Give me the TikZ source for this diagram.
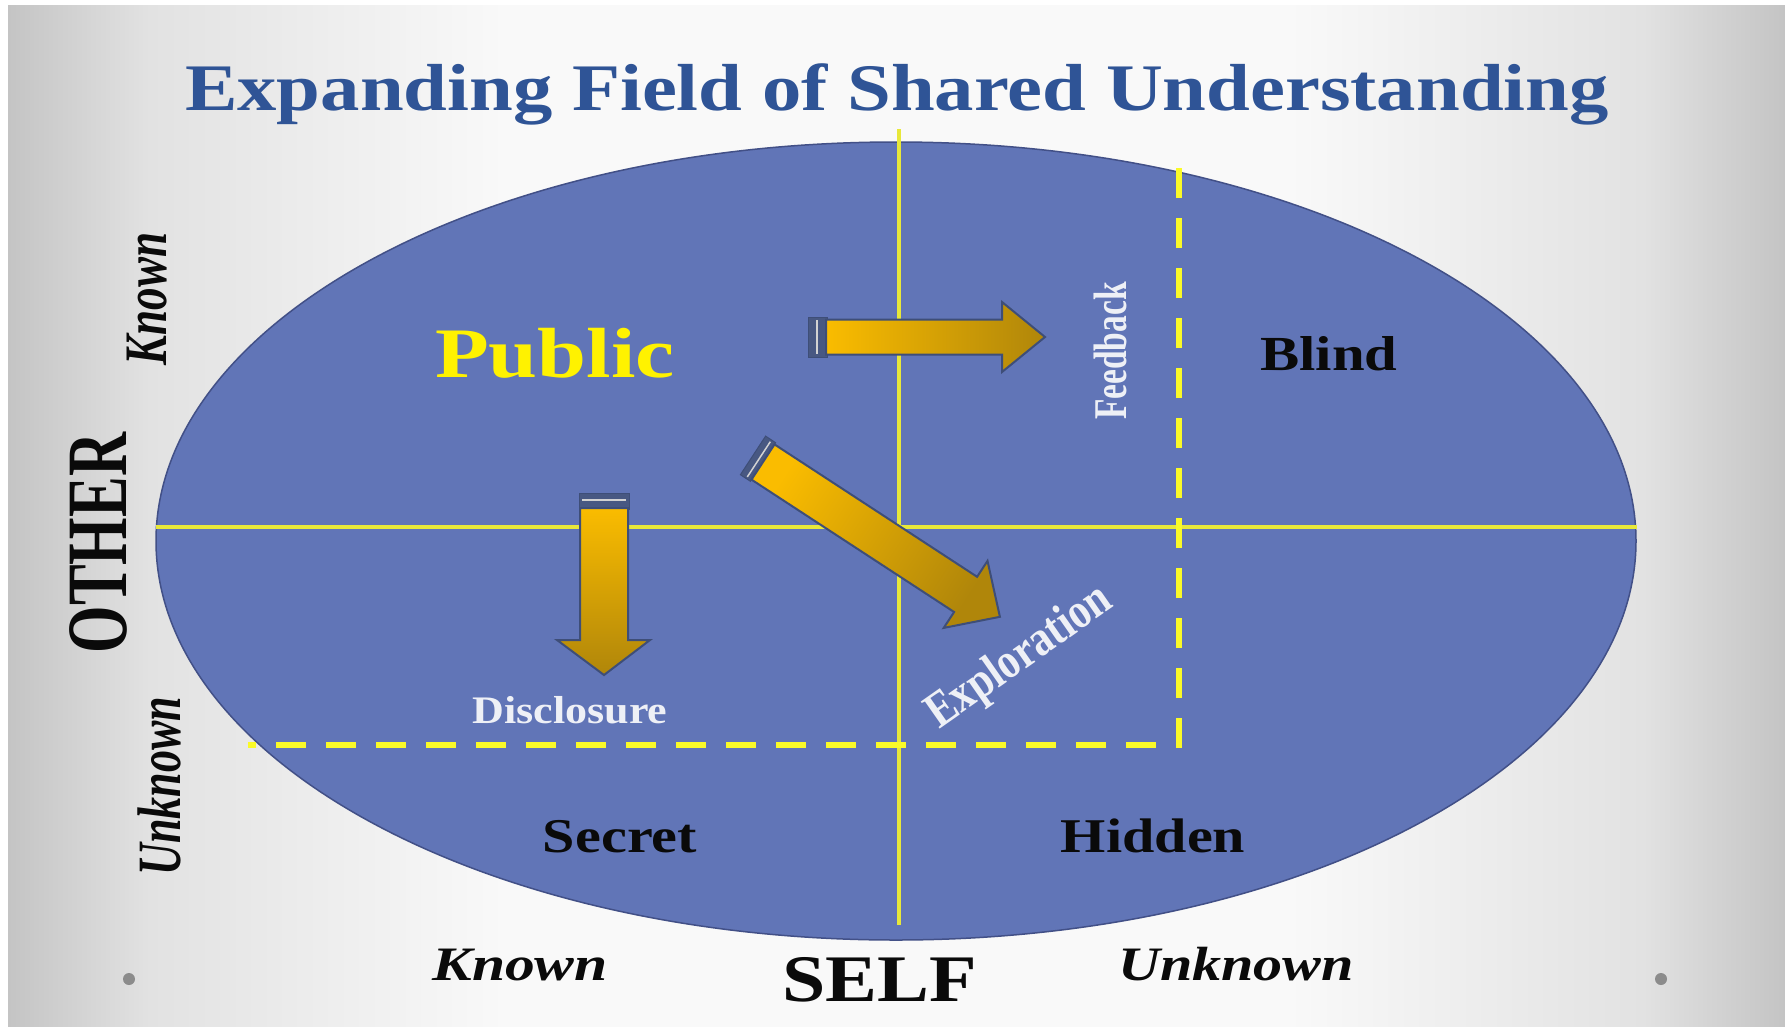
\documentclass[tikz,border=0pt]{standalone}
\usepackage{fontspec}
\setmainfont{Liberation Serif}
\usepackage{graphicx}
\definecolor{bgA}{RGB}{196,196,196}
\definecolor{bgB}{RGB}{226,226,226}
\definecolor{bgC}{RGB}{249,249,249}
\definecolor{ellblue}{RGB}{97,117,183}
\definecolor{elledge}{RGB}{66,80,135}
\definecolor{lineyellow}{RGB}{232,232,58}
\definecolor{dashyellow}{RGB}{250,250,40}
\definecolor{titleblue}{RGB}{47,84,150}
\definecolor{goldA}{RGB}{250,188,0}
\definecolor{goldB}{RGB}{176,134,10}
\definecolor{arrowedge}{RGB}{62,78,120}
\definecolor{capfill}{RGB}{72,88,130}
\definecolor{softwhite}{RGB}{238,240,246}
\definecolor{dotgray}{RGB}{140,140,140}
\definecolor{labelblack}{RGB}{10,10,10}
\pgfdeclarehorizontalshading{bgshade}{100bp}{color(0bp)=(bgA); color(25bp)=(bgA); color(29bp)=(bgB); color(39bp)=(bgC); color(61bp)=(bgC); color(71bp)=(bgB); color(75bp)=(bgA); color(100bp)=(bgA)}
\newcommand\fsz[1]{\fontsize{#1pt}{#1pt}\selectfont}
\begin{document}
\begin{tikzpicture}[x=1pt,y=-1pt,
  lbl/.style={inner sep=0pt, anchor=base},
  rlbl/.style={inner sep=0pt, anchor=center},
  yline/.style={draw=lineyellow, line width=4.5pt},
  ydash/.style={draw=dashyellow, line width=6pt, dash pattern=on 30pt off 20pt},
  goldarrow/.style={draw=arrowedge, line width=2pt, line join=miter},
  arrowcap/.style={fill=capfill, draw=arrowedge, line width=1pt},
  capline/.style={draw=gray!35, line width=1.5pt}]
\useasboundingbox (0,0) rectangle (1785,1026);
\fill[white] (0,0) rectangle (1785,1026);
\shade[shading=bgshade] (8,5) rectangle (1785,1026);

% title
\node[lbl, text=titleblue] (title) at (897,110) {\fsz{66.5}\bfseries\scalebox{1.183}[1]{Expanding Field of Shared Understanding}};

% ellipse
\draw[fill=ellblue, draw=elledge, line width=1.5pt] (896,541) ellipse [x radius=740pt, y radius=399pt];

% quadrant lines
\draw[yline] (156,527) -- (1637,527);
\draw[yline] (899,129) -- (899,925);

% dashed expanding boundary
\draw[ydash] (1179,168) -- (1179,745) -- (248,745);

% Feedback arrow
\draw[arrowcap] (808,317) rectangle (827,357);
\draw[capline] (817,320) -- (817,354);
\draw[goldarrow, left color=goldA, right color=goldB] (826,319.5) -- (1002,319.5) -- (1002,302) -- (1045,337) -- (1002,372) -- (1002,354.5) -- (826,354.5) -- cycle;

% Disclosure arrow
\draw[arrowcap] (579,493) rectangle (629,509);
\draw[capline] (582,500) -- (626,500);
\draw[goldarrow, top color=goldA, bottom color=goldB] (580,508) -- (628,508) -- (628,640) -- (650,640) -- (604,675) -- (557,640) -- (580,640) -- cycle;

% Exploration arrow
\draw[arrowcap] (765.6,436.1) -- (775.6,442.7) -- (750.4,481.3) -- (740.4,474.7) -- cycle;
\draw[capline] (770.3,441.7) -- (747.3,476.9);
\draw[goldarrow, top color=goldA, bottom color=goldB, shading angle=56.8] (774.5,444.4) -- (977.1,576.8) -- (987.5,560.9) -- (999.9,616.8) -- (943.7,627.9) -- (954.1,612.0) -- (751.5,479.6) -- cycle;

% quadrant labels
\node[lbl, text=yellow] (public) at (555,377) {\fsz{71}\bfseries\scalebox{1.24}[1]{Public}};
\node[lbl, text=labelblack] (blind) at (1329,370) {\fsz{49}\bfseries\scalebox{1.2}[1]{Blind}};
\node[lbl, text=labelblack] (secret) at (620,852) {\fsz{48.5}\bfseries\scalebox{1.2}[1]{Secret}};
\node[lbl, text=labelblack] (hidden) at (1153,852) {\fsz{48.5}\bfseries\scalebox{1.2}[1]{Hidden}};

% process labels
\node[lbl, text=softwhite] (disclosure) at (570,723) {\fsz{39}\bfseries\scalebox{1.13}[1]{Disclosure}};
\node[rlbl, text=softwhite, rotate=90] (feedback) at (1110,351) {\fsz{33.5}\bfseries\scalebox{1}[1.4]{Feedback}};
\node[rlbl, text=softwhite, rotate=35] (exploration) at (1020,658) {\fsz{42}\bfseries\scalebox{1}[1.2]{Exploration}};

% axis labels
\node[rlbl, text=labelblack, rotate=90] (oknown) at (147,299) {\fsz{45}\bfseries\itshape\scalebox{1}[1.34]{Known}};
\node[rlbl, text=labelblack, rotate=90] (other) at (98.5,543) {\fsz{61}\bfseries\scalebox{1}[1.41]{OTHER}};
\node[rlbl, text=labelblack, rotate=90] (ounknown) at (159,786) {\fsz{44}\bfseries\itshape\scalebox{1}[1.4]{Unknown}};
\node[lbl, text=labelblack] (sknown) at (520,980) {\fsz{48}\bfseries\itshape\scalebox{1.24}[1]{Known}};
\node[lbl, text=labelblack] (self) at (880,1001) {\fsz{66.5}\bfseries\scalebox{1.17}[1]{SELF}};
\node[lbl, text=labelblack] (sunknown) at (1236,980) {\fsz{48}\bfseries\itshape\scalebox{1.21}[1]{Unknown}};

% slide bullets
\fill[dotgray] (129,979) circle [radius=6pt];
\fill[dotgray] (1661,979) circle [radius=6pt];
\end{tikzpicture}
\end{document}
